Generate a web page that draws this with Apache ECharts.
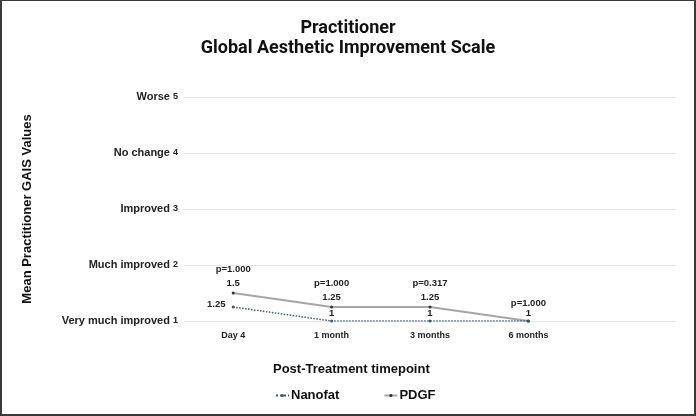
<!DOCTYPE html>
<html>
<head>
<meta charset="utf-8">
<script src="https://cdn.jsdelivr.net/npm/echarts@6/dist/echarts.min.js"></script>
<style>
  html, body { margin: 0; padding: 0; background: #fff; }
  #chart { width: 696px; height: 416px; box-sizing: border-box; border: 2px solid #3a3a3a; border-top-width: 1px; }
</style>
</head>
<body>
<div id="chart"></div>
<script>
const categories = ['Day 4', '1 month', '3 months', '6 months', ''];
const nanofat = [1.25, 1, 1, 1, null];
const pdgf = [1.5, 1.25, 1.25, 1, null];
const pValues = ['p=1.000', 'p=1.000', 'p=0.317', 'p=1.000'];
const scaleLabels = { 1: 'Very much improved', 2: 'Much improved', 3: 'Improved', 4: 'No change', 5: 'Worse' };

const font = "'Liberation Sans', Roboto, sans-serif";
const chart = echarts.init(document.getElementById('chart'));

const option = {
  textStyle: { fontFamily: font },
  title: {
    text: 'Practitioner\nGlobal Aesthetic Improvement Scale',
    left: 'center',
    top: 12,
    textStyle: { fontFamily: "'Liberation Sans Narrow', 'Roboto', sans-serif", fontSize: 18, fontWeight: 'bold', color: '#111', lineHeight: 20 },
  },
  grid: { left: 182, right: 18, top: 96, bottom: 93 },
  legend: {
    left: 268,
    top: 383,
    itemWidth: 13,
    itemHeight: 4,
    itemGap: 44,
    textStyle: { fontSize: 13, fontWeight: 'bold', color: '#111', fontFamily: font, padding: [0, 0, 0, -3] },
    data: ['Nanofat', 'PDGF'],
  },
  graphic: [
    {
      type: 'text',
      left: 271,
      top: 362,
      style: { text: 'Post-Treatment timepoint', fontSize: 13, fontWeight: 'bold', fill: '#111', fontFamily: font },
    },
  ],
  xAxis: {
    type: 'category',
    data: categories,
    boundaryGap: true,
    axisLine: { show: false },
    axisTick: { show: false },
    axisLabel: { fontSize: 9, fontWeight: 'bold', color: '#222', margin: 10 },
  },
  yAxis: {
    type: 'value',
    min: 1,
    max: 5,
    interval: 1,
    name: 'Mean Practitioner GAIS Values',
    nameLocation: 'middle',
    nameGap: 150,
    nameTextStyle: { fontSize: 13, fontWeight: 'bold', color: '#111' },
    axisLine: { show: false },
    axisTick: { show: false },
    splitLine: { lineStyle: { color: '#e6e6e6', width: 1 } },
    axisLabel: {
      margin: 6,
      formatter: (v) => '{n|' + scaleLabels[v] + ' }{v|' + v + '}',
      rich: {
        n: { fontSize: 11, fontWeight: 'bold', color: '#222' },
        v: { fontSize: 9, fontWeight: 'bold', color: '#222' },
      },
    },
  },
  series: [
    {
      name: 'Nanofat',
      type: 'line',
      data: nanofat,
      symbol: 'circle',
      symbolSize: 3,
      itemStyle: { color: '#3f5a6e' },
      lineStyle: { color: '#3f5a6e', width: 1.5, type: 'dotted' },
      label: {
        show: true,
        fontSize: 9.5,
        fontWeight: 'bold',
        color: '#222',
        position: 'top',
        distance: 1,
        formatter: (p) => (p.value == null ? '' : String(p.value)),
      },
      labelLayout: (params) => params.dataIndex === 0 ? { dx: -17, dy: 5 } : {},
      z: 3,
    },
    {
      name: 'PDGF',
      type: 'line',
      data: pdgf,
      symbol: 'circle',
      symbolSize: 3,
      itemStyle: { color: '#333' },
      lineStyle: { color: '#a6a6a6', width: 2 },
      label: {
        show: true,
        fontSize: 9.5,
        fontWeight: 'bold',
        color: '#222',
        position: 'top',
        distance: 1,
        lineHeight: 14,
        formatter: (p) => {
          if (p.value == null) return '';
          const v = p.dataIndex === 3 ? '' : '\n' + p.value;
          return pValues[p.dataIndex] + v;
        },
      },
      labelLayout: (params) => params.dataIndex === 3 ? { dy: -8 } : {},
      z: 2,
    },
  ],
};

chart.setOption(option);
</script>
</body>
</html>
